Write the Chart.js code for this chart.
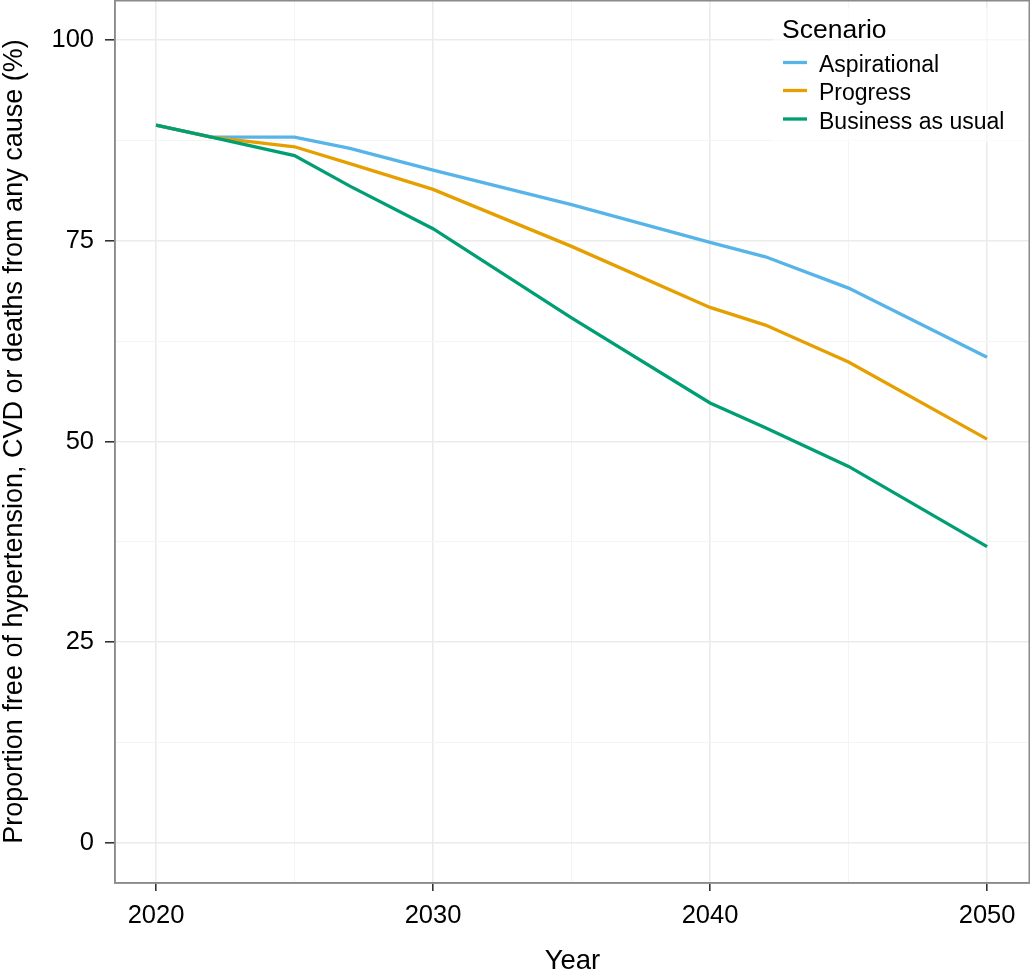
<!DOCTYPE html>
<html>
<head>
<meta charset="utf-8">
<script src="https://cdn.jsdelivr.net/npm/chart.js@4.4.1/dist/chart.umd.min.js"></script>
<style>
  html, body { margin: 0; padding: 0; background: #fff; }
  #wrap { width: 1030px; height: 969px; position: relative; }
</style>
</head>
<body>
<div id="wrap"><canvas id="c"></canvas></div>
<script>
const years = [2020, 2022, 2025, 2027, 2030, 2035, 2040, 2042, 2045, 2050];
const aspirational = [89.4, 87.9, 87.9, 86.5, 83.8, 79.5, 74.8, 73.0, 69.1, 60.5];
const progress     = [89.4, 87.9, 86.7, 84.6, 81.4, 74.3, 66.7, 64.5, 59.9, 50.3];
const businessAsUsual = [89.4, 87.9, 85.6, 81.8, 76.5, 65.4, 54.8, 51.7, 46.9, 36.9];
const seriesNames = ['Aspirational', 'Progress', 'Business as usual'];
const seriesColors = ['#56B4E9', '#E69F00', '#009E73'];
const xTicks = [2020, 2025, 2030, 2035, 2040, 2045, 2050];
const xLabelled = [2020, 2030, 2040, 2050];
const yTicks = [0, 12.5, 25, 37.5, 50, 62.5, 75, 87.5, 100];
const yLabelled = [0, 25, 50, 75, 100];
const legendTitle = 'Scenario';
const xTitle = 'Year';
const yTitle = 'Proportion free of hypertension, CVD or deaths from any cause (%)';

const FONT = "'Liberation Sans', Arial, Helvetica, sans-serif";

function pts(arr) { return years.map((y, i) => ({ x: y, y: arr[i] })); }
const allSeries = [aspirational, progress, businessAsUsual];

const datasets = allSeries.map((arr, i) => ({
  label: seriesNames[i],
  data: pts(arr),
  borderColor: seriesColors[i],
  backgroundColor: seriesColors[i],
  borderWidth: 3.3,
  pointRadius: 0,
  tension: 0,
  fill: false,
  order: 3 - i
}));

const framePlugin = {
  id: 'frame',
  afterDatasetsDraw(chart) {
    const { ctx, chartArea: a } = chart;
    ctx.save();
    // legend
    const lx = 773, ly = 8;
    ctx.fillStyle = 'rgba(255,255,255,0.6)';
    ctx.fillRect(lx, ly, a.right - lx - 2, 134);
    ctx.fillStyle = '#000';
    ctx.textBaseline = 'alphabetic';
    ctx.textAlign = 'left';
    ctx.font = '26.5px ' + FONT;
    ctx.fillText(legendTitle, 782, 38);
    ctx.font = '23px ' + FONT;
    const baseY = [72, 100, 128.5];
    seriesNames.forEach((n, i) => {
      ctx.strokeStyle = seriesColors[i];
      ctx.lineWidth = 3.3;
      ctx.beginPath();
      ctx.moveTo(783, baseY[i] - 9.5);
      ctx.lineTo(807, baseY[i] - 9.5);
      ctx.stroke();
      ctx.fillStyle = '#000';
      ctx.fillText(n, 819, baseY[i]);
    });
    // border
    ctx.strokeStyle = '#8a8a8a';
    ctx.lineWidth = 1.5;
    ctx.strokeRect(a.left, a.top + 0.75, a.right - a.left - 0.75, a.bottom - a.top - 0.75);
    ctx.restore();
  }
};

new Chart(document.getElementById('c'), {
  type: 'line',
  data: { datasets },
  plugins: [framePlugin],
  options: {
    responsive: true,
    maintainAspectRatio: false,
    animation: false,
    devicePixelRatio: 1,
    layout: { padding: 0 },
    plugins: { legend: { display: false }, tooltip: { enabled: false } },
    scales: {
      x: {
        type: 'linear',
        min: 2018.52,
        max: 2051.55,
        afterBuildTicks: s => { s.ticks = xTicks.map(v => ({ value: v })); },
        afterFit: s => { s.height = 86; s.paddingLeft = 0; s.paddingRight = 0; },
        border: { display: true, color: '#8a8a8a', width: 1.5 },
        grid: {
          color: c => xLabelled.includes(c.tick.value) ? '#ebebeb' : '#f4f4f4',
          lineWidth: c => xLabelled.includes(c.tick.value) ? 1.6 : 1,
          tickColor: c => xLabelled.includes(c.tick.value) ? '#333' : 'rgba(0,0,0,0)',
          tickLength: 8,
          drawTicks: true
        },
        ticks: {
          autoSkip: false,
          maxRotation: 0,
          padding: 10,
          color: '#000',
          font: { family: FONT, size: 25.5 },
          callback: v => xLabelled.includes(v) ? String(v) : ''
        },
        title: {
          display: true, text: xTitle, color: '#000',
          font: { family: FONT, size: 27.5, lineHeight: 0.52 },
          padding: { top: 0, bottom: 0 }
        }
      },
      y: {
        type: 'linear',
        min: -4.98,
        max: 104.98,
        afterBuildTicks: s => { s.ticks = yTicks.map(v => ({ value: v })); },
        afterFit: s => { s.width = 115; s.paddingTop = 0; s.paddingBottom = 0; },
        border: { display: true, color: '#8a8a8a', width: 1.5 },
        grid: {
          color: c => yLabelled.includes(c.tick.value) ? '#ebebeb' : '#f4f4f4',
          lineWidth: c => yLabelled.includes(c.tick.value) ? 1.6 : 1,
          tickColor: c => yLabelled.includes(c.tick.value) ? '#333' : 'rgba(0,0,0,0)',
          tickLength: 10,
          drawTicks: true
        },
        ticks: {
          autoSkip: false,
          padding: 11,
          color: '#000',
          font: { family: FONT, size: 25.5 },
          callback: v => yLabelled.includes(v) ? String(v) : ''
        },
        title: {
          display: true, text: yTitle, color: '#000',
          font: { family: FONT, size: 27, lineHeight: 1.1 },
          padding: { top: 0, bottom: 0 }
        }
      }
    }
  }
});
</script>
</body>
</html>
